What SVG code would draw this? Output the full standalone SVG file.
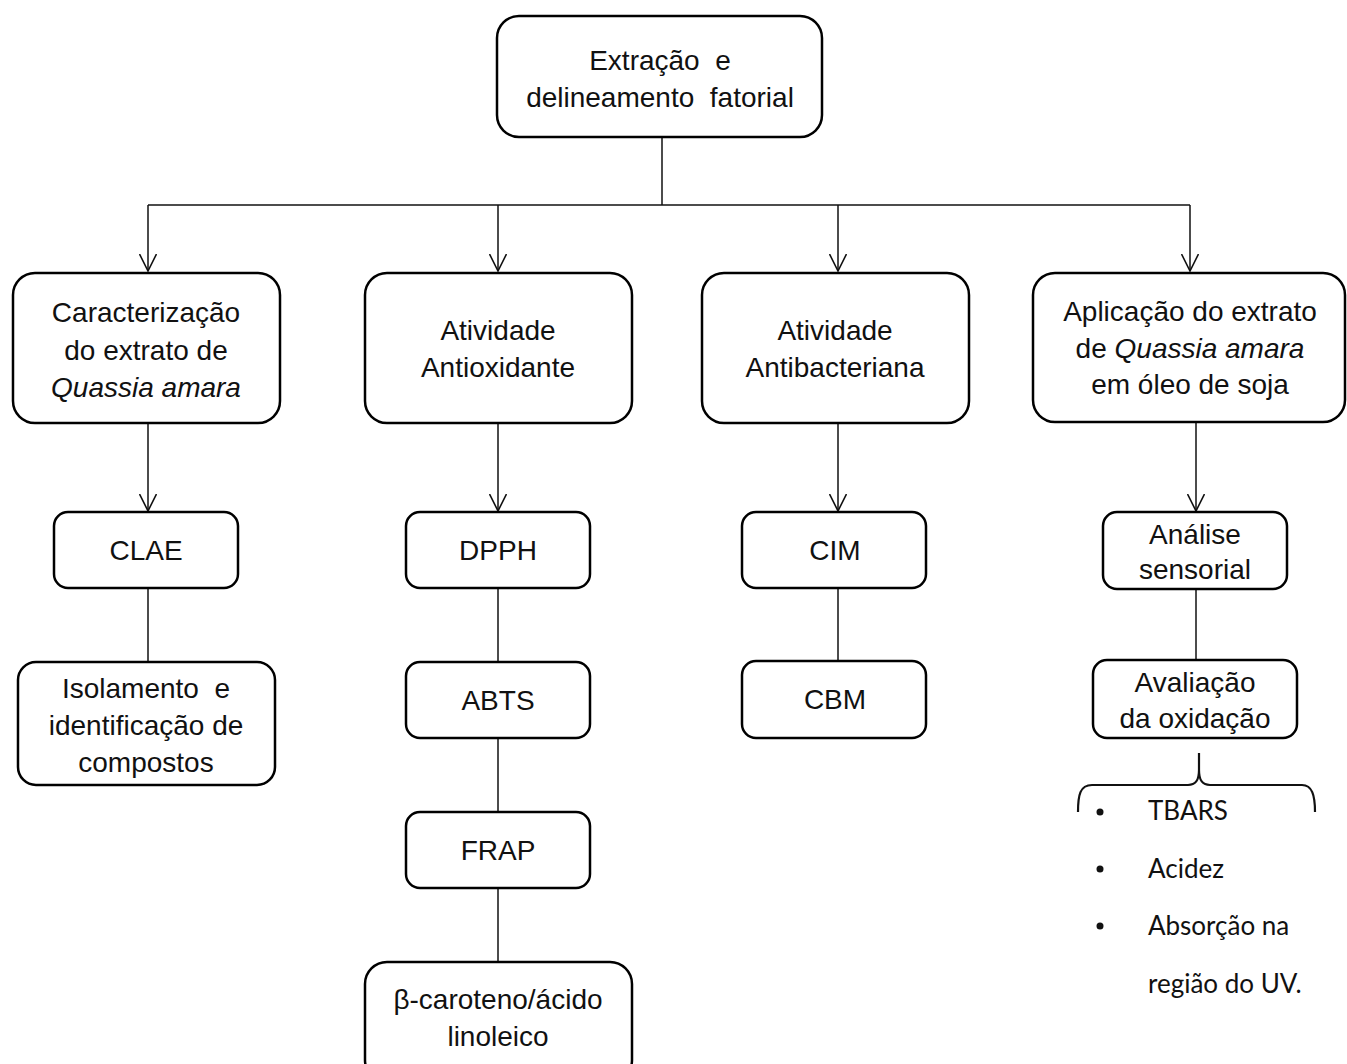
<svg xmlns="http://www.w3.org/2000/svg" width="1347" height="1064" viewBox="0 0 1347 1064">
<style>
.box{fill:#fff;stroke:#000;stroke-width:2.5}
.t{font-family:"Liberation Sans",Arial,sans-serif;font-size:28px;fill:#111;text-anchor:middle;white-space:pre}
.l{font-family:Lato,"Open Sans",sans-serif;font-size:26px;fill:#111}
.c{fill:none;stroke:#111;stroke-width:1.5}
</style>
<defs>
<marker id="v" markerWidth="18" markerHeight="18" refX="16" refY="8" orient="auto" markerUnits="userSpaceOnUse" viewBox="0 0 17 16">
<path d="M0,0 L16,8 L0,16" fill="none" stroke="#111" stroke-width="1.5"/>
</marker>
</defs>
<g id="connectors">
<path class="c" d="M662,138 V205"/>
<path class="c" d="M148,205 H1190"/>
<path class="c" d="M148,205 V271" marker-end="url(#v)"/>
<path class="c" d="M498,205 V271" marker-end="url(#v)"/>
<path class="c" d="M838,205 V271" marker-end="url(#v)"/>
<path class="c" d="M1190,205 V271" marker-end="url(#v)"/>
<path class="c" d="M148,423 V511" marker-end="url(#v)"/>
<path class="c" d="M498,423 V511" marker-end="url(#v)"/>
<path class="c" d="M838,423 V511" marker-end="url(#v)"/>
<path class="c" d="M1196,423 V511" marker-end="url(#v)"/>
<path class="c" d="M148,588 V662"/>
<path class="c" d="M498,588 V662"/>
<path class="c" d="M838,588 V661"/>
<path class="c" d="M1196,589 V660"/>
<path class="c" d="M498,738 V812"/>
<path class="c" d="M498,888 V962"/>
<path d="M1078,812 C1078,795 1080,785 1092,785 H1188 C1196,785 1199,780 1199,770 V753 M1199,770 C1199,780 1202,785 1210,785 H1302 C1312,785 1315,795 1315,812" fill="none" stroke="#111" stroke-width="2.2"/>
</g>
<g id="n0"><rect class="box" x="497" y="16" width="325" height="121" rx="22"/>
<text class="t" x="660" y="70">Extração  e</text><text class="t" x="660" y="107">delineamento  fatorial</text></g>
<g id="n1"><rect class="box" x="13" y="273" width="267" height="150" rx="22"/>
<text class="t" x="146" y="322">Caracterização</text><text class="t" x="146" y="360">do extrato de</text><text class="t" x="146" y="397" font-style="italic">Quassia amara</text></g>
<g id="n2"><rect class="box" x="365" y="273" width="267" height="150" rx="22"/>
<text class="t" x="498" y="340">Atividade</text><text class="t" x="498" y="377">Antioxidante</text></g>
<g id="n3"><rect class="box" x="702" y="273" width="267" height="150" rx="22"/>
<text class="t" x="835" y="340">Atividade</text><text class="t" x="835" y="377">Antibacteriana</text></g>
<g id="n4"><rect class="box" x="1033" y="273" width="312" height="149" rx="22"/>
<text class="t" x="1190" y="321">Aplicação do extrato</text><text class="t" x="1190" y="358">de <tspan font-style="italic">Quassia amara</tspan></text><text class="t" x="1190" y="394">em óleo de soja</text></g>
<g id="n5"><rect class="box" x="54" y="512" width="184" height="76" rx="14"/>
<text class="t" x="146" y="560">CLAE</text></g>
<g id="n6"><rect class="box" x="406" y="512" width="184" height="76" rx="14"/>
<text class="t" x="498" y="560">DPPH</text></g>
<g id="n7"><rect class="box" x="742" y="512" width="184" height="76" rx="14"/>
<text class="t" x="835" y="560">CIM</text></g>
<g id="n8"><rect class="box" x="1103" y="512" width="184" height="77" rx="14"/>
<text class="t" x="1195" y="544">Análise</text><text class="t" x="1195" y="579">sensorial</text></g>
<g id="n9"><rect class="box" x="18" y="662" width="257" height="123" rx="18"/>
<text class="t" x="146" y="698">Isolamento  e</text><text class="t" x="146" y="735">identificação de</text><text class="t" x="146" y="772">compostos</text></g>
<g id="n10"><rect class="box" x="406" y="662" width="184" height="76" rx="14"/>
<text class="t" x="498" y="710">ABTS</text></g>
<g id="n11"><rect class="box" x="742" y="661" width="184" height="77" rx="14"/>
<text class="t" x="835" y="709">CBM</text></g>
<g id="n12"><rect class="box" x="1093" y="660" width="204" height="78" rx="14"/>
<text class="t" x="1195" y="692">Avaliação</text><text class="t" x="1195" y="728">da oxidação</text></g>
<g id="n13"><rect class="box" x="406" y="812" width="184" height="76" rx="14"/>
<text class="t" x="498" y="860">FRAP</text></g>
<g id="n14"><rect class="box" x="365" y="962" width="267" height="120" rx="22"/>
<text class="t" x="498" y="1009">β-caroteno/ácido</text><text class="t" x="498" y="1046">linoleico</text></g>
<g id="list">
<circle cx="1100" cy="812" r="3.5" fill="#111"/><text class="l" x="1148" y="820">TBARS</text>
<circle cx="1100" cy="869" r="3.5" fill="#111"/><text class="l" x="1148" y="878">Acidez</text>
<circle cx="1100" cy="926" r="3.5" fill="#111"/><text class="l" x="1148" y="935">Absorção na</text>
<text class="l" x="1148" y="993">região do UV.</text>
</g>
</svg>
